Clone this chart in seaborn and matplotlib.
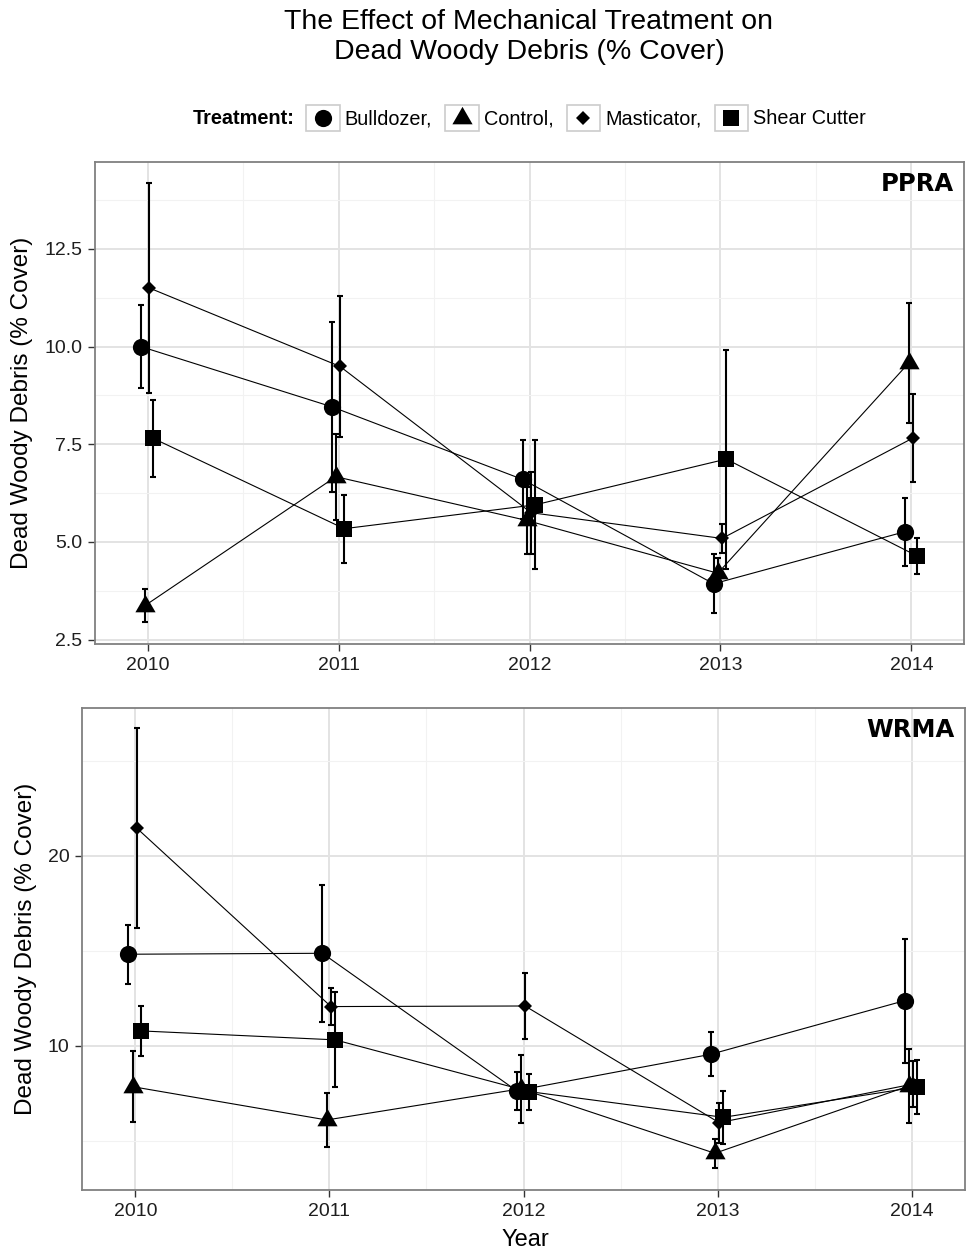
import numpy as np
import pandas as pd
import matplotlib
matplotlib.use("Agg")
import matplotlib.pyplot as plt
import seaborn as sns
from matplotlib.legend_handler import HandlerBase
from matplotlib.patches import Rectangle
from matplotlib.lines import Line2D
from matplotlib.ticker import MultipleLocator, FixedLocator

# ---------------- data ----------------
years = [2010, 2011, 2012, 2013, 2014]
treatments = ["Bulldozer", "Control", "Masticator", "Shear Cutter"]

# PPRA: mean and standard error (% cover)
ppra_bulldozer = [10.0, 8.46, 6.60, 3.93, 5.26]
ppra_bulldozer_se = [1.05, 2.17, 1.00, 0.75, 0.87]
ppra_control = [3.37, 6.67, 5.55, 4.20, 9.58]
ppra_control_se = [0.43, 1.10, 0.85, 0.40, 1.54]
ppra_masticator = [11.50, 9.49, 5.75, 5.09, 7.66]
ppra_masticator_se = [2.68, 1.80, 1.05, 0.36, 1.12]
ppra_shear = [7.65, 5.34, 5.95, 7.12, 4.64]
ppra_shear_se = [0.98, 0.87, 1.65, 2.80, 0.45]

# WRMA: mean and standard error (% cover)
wrma_bulldozer = [14.82, 14.87, 7.65, 9.56, 12.38]
wrma_bulldozer_se = [1.55, 3.60, 1.00, 1.15, 3.25]
wrma_control = [7.86, 6.11, 7.75, 4.36, 7.90]
wrma_control_se = [1.85, 1.40, 1.80, 0.77, 1.95]
wrma_masticator = [21.44, 12.07, 12.10, 5.97, 8.00]
wrma_masticator_se = [5.25, 0.95, 1.75, 1.05, 1.20]
wrma_shear = [10.79, 10.32, 7.60, 6.25, 7.85]
wrma_shear_se = [1.30, 2.50, 0.95, 1.40, 1.40]

legend_labels = ["Bulldozer,", "Control,", "Masticator,", "Shear Cutter"]

# ---------------- style ----------------
sns.set_theme(style="white")
plt.rcParams["font.family"] = ["Liberation Sans", "DejaVu Sans"]
plt.rcParams["text.color"] = "black"
plt.rcParams["axes.labelcolor"] = "black"

W, H = 966, 1256
fig = plt.figure(figsize=(W / 100, H / 100), dpi=100)

tri = [(-1, -0.577), (1, -0.577), (0, 1.155)]
marker_style = {
    "Bulldozer": ("o", 12.4),
    "Control": (tri, 16.8),
    "Masticator": ("D", 7.4),
    "Shear Cutter": ("s", 11.4),
}
dodge = {"Bulldozer": -0.036, "Control": -0.014, "Masticator": 0.008, "Shear Cutter": 0.030}


def px_axes(l, t, r, b):
    return fig.add_axes([l / W, 1 - b / H, (r - l) / W, (b - t) / H])


def make_df(series):
    rows = []
    for t, (m, s) in series.items():
        for yr, mv, sv in zip(years, m, s):
            rows.append(dict(Treatment=t, Year=yr, x=yr + dodge[t], mean=mv, se=sv))
    return pd.DataFrame(rows)


def draw_panel(ax, df, ylim, major_ticks, minor_ticks, ytick_labels, site, ylab_x):
    for t in treatments:
        d = df[df.Treatment == t]
        sns.lineplot(data=d, x="x", y="mean", ax=ax, color="black", lw=0.8,
                     estimator=None, sort=False, legend=False, zorder=2)
        ax.errorbar(d["x"], d["mean"], yerr=d["se"], fmt="none", ecolor="black",
                    elinewidth=1.5, capsize=2.5, capthick=1.5, zorder=3)
    for t in treatments:
        d = df[df.Treatment == t]
        m, ms = marker_style[t]
        ax.plot(d["x"], d["mean"], ls="none", marker=m, ms=ms, color="black",
                mec="black", mew=0, zorder=4)
    ax.set_xlim(2009.725, 2014.275)
    ax.set_ylim(*ylim)
    ax.xaxis.set_major_locator(FixedLocator(years))
    ax.xaxis.set_minor_locator(MultipleLocator(0.5))
    ax.yaxis.set_major_locator(FixedLocator(major_ticks))
    ax.yaxis.set_minor_locator(FixedLocator(minor_ticks))
    ax.set_xticklabels([str(y) for y in years])
    ax.set_yticklabels(ytick_labels)
    ax.grid(which="major", color="#E3E3E3", lw=1.4)
    ax.grid(which="minor", color="#F2F2F2", lw=0.8)
    ax.set_axisbelow(True)
    for sp in ax.spines.values():
        sp.set_color("#808080")
        sp.set_linewidth(1.3)
    ax.tick_params(which="major", direction="out", length=5, width=1.0, color="#333333",
                   labelsize=14, labelcolor="#1E1E1E", pad=4, bottom=True, left=True)
    ax.tick_params(which="minor", length=0)
    ax.set_xlabel("")
    ax.set_ylabel("Dead Woody Debris (% Cover)", fontsize=17.5, color="black")
    ax.yaxis.set_label_coords(ylab_x, 0.5)
    bb = ax.get_position()
    ax.text(1 - 10 / (bb.width * W), 1 - 22 / (bb.height * H), site, transform=ax.transAxes,
            ha="right", va="center", fontsize=17.5, fontweight="bold", family="DejaVu Sans",
            color="black")


ppra = make_df({
    "Bulldozer": (ppra_bulldozer, ppra_bulldozer_se),
    "Control": (ppra_control, ppra_control_se),
    "Masticator": (ppra_masticator, ppra_masticator_se),
    "Shear Cutter": (ppra_shear, ppra_shear_se),
})
wrma = make_df({
    "Bulldozer": (wrma_bulldozer, wrma_bulldozer_se),
    "Control": (wrma_control, wrma_control_se),
    "Masticator": (wrma_masticator, wrma_masticator_se),
    "Shear Cutter": (wrma_shear, wrma_shear_se),
})

ax1 = px_axes(95, 162, 964, 644)
draw_panel(ax1, ppra, (2.39, 14.72), [2.5, 5.0, 7.5, 10.0, 12.5],
           [3.75, 6.25, 8.75, 11.25, 13.75], ["2.5", "5.0", "7.5", "10.0", "12.5"],
           "PPRA", (33 - 95) / 869)

ax2 = px_axes(82, 708, 965, 1190)
draw_panel(ax2, wrma, (2.43, 27.76), [10, 20], [5, 15, 25], ["10", "20"],
           "WRMA", (37 - 82) / 883)

fig.text(525 / W, 1 - 1240 / H, "Year", ha="center", va="center", fontsize=17, color="black")

# title
fig.text(529 / W, 1 - 37 / H, "The Effect of Mechanical Treatment on\nDead Woody Debris (% Cover)",
         ha="center", va="center", fontsize=20.5, linespacing=1.2, color="black")


# legend with boxed keys
class BoxHandler(HandlerBase):
    def __init__(self, marker, ms):
        super().__init__()
        self.marker = marker
        self.ms = ms

    def create_artists(self, legend, orig_handle, xdescent, ydescent, width, height,
                       fontsize, trans):
        rect = Rectangle((-xdescent, -ydescent), width, height, facecolor="white",
                         edgecolor="#CCCCCC", lw=1.2, transform=trans)
        ln = Line2D([-xdescent + width / 2], [-ydescent + height / 2], ls="none",
                    marker=self.marker, ms=self.ms, color="black", mew=0, transform=trans)
        return [rect, ln]


handles = [Line2D([], []) for _ in treatments]
hmap = {h: BoxHandler(*marker_style[t]) for h, t in zip(handles, treatments)}
fig.text(193 / W, 1 - 118 / H, "Treatment:", ha="left", va="center", fontsize=14.3,
         fontweight="bold", color="black")
leg = fig.legend(handles, legend_labels, handler_map=hmap, loc="center left",
                 bbox_to_anchor=(306 / W, 1 - 118 / H), ncol=4, frameon=False,
                 fontsize=14.3, handlelength=1.7, handleheight=1.7, handletextpad=0.25,
                 columnspacing=0.65, borderpad=0, borderaxespad=0)
for txt in leg.get_texts():
    txt.set_color("black")

fig.savefig("out.png", dpi=100, facecolor="white")
